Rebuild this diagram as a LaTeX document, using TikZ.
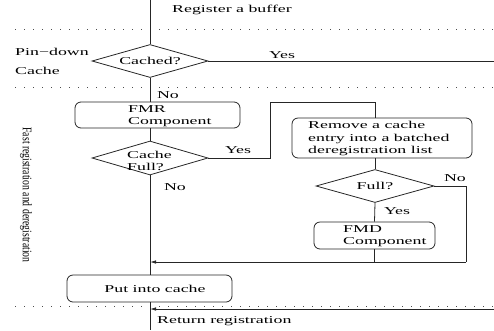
\documentclass[tikz,border=0pt]{standalone}
\usepackage{fontspec}
\setmainfont{Liberation Serif}[FakeStretch=1.7]
\newfontfamily\vfont{Liberation Serif}
\usetikzlibrary{shapes.geometric,arrows.meta}
\begin{document}
\begin{tikzpicture}[x=1pt,y=-1pt,
 ln/.style={draw=black!85, line width=0.8pt},
 dotln/.style={draw=black!70, line width=0.8pt, dash pattern=on 0.8pt off 8.2pt},
 rbox/.style={draw=black!85, line width=0.8pt, rounded corners=6pt, inner sep=0pt},
 dia/.style={diamond, draw=black!85, line width=0.8pt, inner sep=0pt},
 txt/.style={font=\fontsize{10.5}{12.5}\selectfont, inner sep=0pt},
 arr/.style={-{Latex[length=6pt,width=3.5pt]}},
]
\useasboundingbox (0,0) rectangle (494,330);
% dotted separators
\draw[dotln] (15,29) -- (494,29);
\draw[dotln] (15,87) -- (494,87);
\draw[dotln] (15,306) -- (494,306);

% nodes
\node[dia, minimum width=116pt, minimum height=33pt] (cached) at (150,61) {};
\node[txt] at (cached) {Cached?};
\node[rbox, minimum width=165pt, minimum height=26pt] (fmr) at (157.5,115) {};
\node[txt, align=left, anchor=west] at (128,116) {FMR\\Component};
\node[dia, minimum width=116pt, minimum height=34pt] (cfull) at (150,158) {};
\node[txt, align=left, anchor=west] at (127,161) {Cache\\Full?};
\node[rbox, minimum width=180pt, minimum height=40pt] (remove) at (382,138) {};
\node[txt, align=left, anchor=west] at (308,138.5) {Remove a cache\\entry into a batched\\deregistration list};
\node[dia, minimum width=118pt, minimum height=33pt] (full) at (375,186) {};
\node[txt] at (full) {Full?};
\node[rbox, minimum width=121pt, minimum height=27pt] (fmd) at (374.5,235.5) {};
\node[txt, align=left, anchor=west] at (343,236) {FMD\\Component};
\node[rbox, minimum width=165pt, minimum height=27pt] (put) at (149.5,288.5) {};
\node[txt] at (155,289) {Put into cache};

% coordinates
\coordinate (top) at (150,0);
\coordinate (bot) at (150,330);
\coordinate (yesend) at (494,61);
\coordinate (m1) at (150,262);
\coordinate (m2) at (150,309);
\coordinate (retstart) at (494,309);
\coordinate (c1) at (270,158);
\coordinate (c2) at (270,102);
\coordinate (c3) at (375,102);
\coordinate (n1) at (466,186);
\coordinate (n2) at (466,262);

% connectors
\draw[ln] (top) -- (cached.north);
\draw[ln] (cached.east) -- (yesend);
\draw[ln] (cached.south) -- (cached.south |- fmr.north);
\draw[ln] (cached.south |- fmr.south) -- (cfull.north);
\draw[ln] (cfull.south) -- (cfull.south |- put.north);
\draw[ln] (put.south -| cfull.south) -- (bot);
\draw[ln] (cfull.east) -- (c1) -- (c2) -- (c3) -- (c3 |- remove.north);
\draw[ln] (c3 |- remove.south) -- (full.north);
\draw[ln] (full.south) -- (fmd.north);
\draw[ln] (full.east) -- (n1) -- (n2);
\draw[ln,arr] (n2) -- (m1);
\draw[ln] (fmd.south) -- (fmd.south |- m1);
\draw[ln,arr] (retstart) -- (m2);

% labels
\node[txt, anchor=west] at (172,10) {Register a buffer};
\node[txt, anchor=west] at (15,52) {Pin−down};
\node[txt, anchor=west] at (15,71) {Cache};
\node[txt] at (282,55) {Yes};
\node[txt] at (168,95) {No};
\node[txt] at (238,150) {Yes};
\node[txt] at (175,187) {No};
\node[txt] at (455,178) {No};
\node[txt] at (397,211) {Yes};
\node[txt, anchor=west] at (157,321) {Return registration};
\node[inner sep=0pt] at (26,195) {\rotatebox{-90}{\scalebox{1}[1.35]{\vfont\fontsize{9.7}{11}\selectfont Fast registration and deregistration}}};
\end{tikzpicture}
\end{document}
